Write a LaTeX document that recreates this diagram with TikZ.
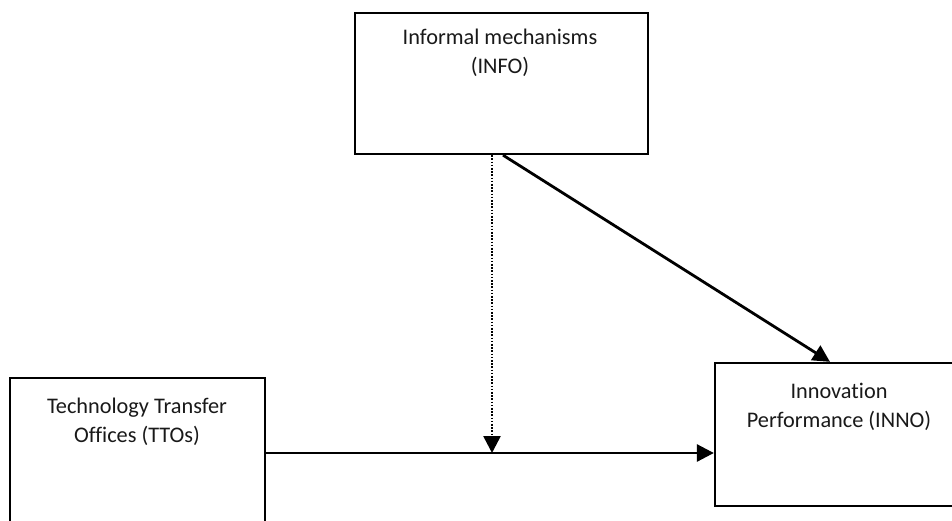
\documentclass[tikz,border=0pt]{standalone}
\usepackage{fontspec}
\setmainfont[Ligatures=NoCommon]{Carlito}
\usetikzlibrary{arrows.meta}
\begin{document}
\begin{tikzpicture}[x=1pt,y=-1pt,
  boxnode/.style={draw=black,line width=2.3pt,rectangle,inner sep=0pt},
  lbl/.style={align=center,font=\fontsize{22.3}{29}\selectfont,inner sep=0pt,anchor=base,text=black!90},
  arr/.style={line width=2.8pt,-{Triangle[length=17pt,width=17pt]}},
  dotarr/.style={line width=2.6pt,dash pattern=on 1.7pt off 1.5pt,-{Triangle[length=17pt,width=17pt]}}]
\clip (0,0) rectangle (952,521);
\fill[white] (0,0) rectangle (952,521);
\node[boxnode,minimum width=293pt,minimum height=141pt] (info) at (501.5,83.5) {};
\node[boxnode,minimum width=255pt,minimum height=162pt] (tto) at (137.5,459) {};
\node[boxnode,minimum width=248pt,minimum height=143pt] (inno) at (839,434.5) {};
\node[lbl] (infot) at (500,74) {Informal mechanisms\\(INFO)};
\node[lbl] (ttot) at (137,442) {Technology Transfer\\Offices (TTOs)};
\node[lbl] (innot) at (839,427) {Innovation\\Performance (INNO)};
\coordinate (m) at (492,453);
\coordinate (d) at (503,154);
\coordinate (t) at (830,0);
\draw[arr] (tto.east |- m) -- (inno.west |- m);
\draw[dotarr] (info.south -| m) -- (m);
\draw[arr] (info.south -| d) -- (inno.north -| t);
\end{tikzpicture}
\end{document}
